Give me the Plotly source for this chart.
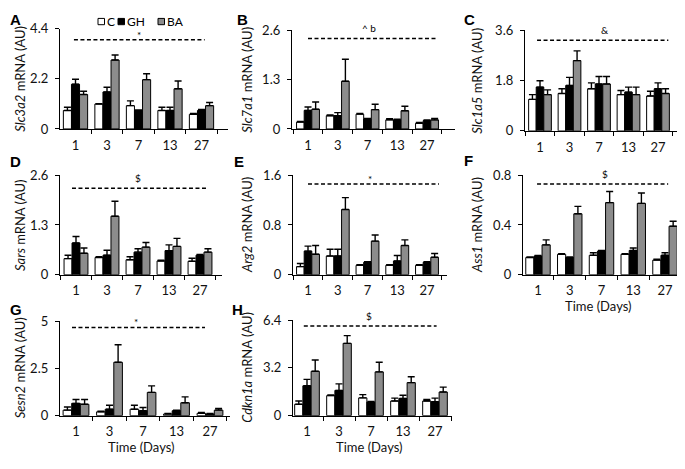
import plotly.graph_objects as go

# The page body has an 8px margin, so the figure is sized to fit the window after it.
OFF = 8
W, H = 685 - OFF, 469 - OFF
FONT = "Lato"

days = ["1", "3", "7", "13", "27"]
groups = ["C", "GH", "BA"]
group_colors = ["white", "black", "#8c8c8c"]
genes = ["Slc3a2", "Slc7a1", "Slc1a5", "Sars", "Arg2", "Ass1", "Sesn2", "Cdkn1a"]
letters = ["A", "B", "C", "D", "E", "F", "G", "H"]

# means and SEM (upper error) per gene, per group, per day
slc3a2_C = [0.81, 1.09, 1.02, 0.81, 0.64]
slc3a2_C_sem = [0.14, 0.02, 0.21, 0.14, 0.04]
slc3a2_GH = [1.96, 1.62, 0.81, 0.81, 0.81]
slc3a2_GH_sem = [0.22, 0.21, 0.02, 0.14, 0.04]
slc3a2_BA = [1.51, 3.02, 2.16, 1.76, 1.02]
slc3a2_BA_sem = [0.14, 0.22, 0.26, 0.34, 0.14]

slc7a1_C = [0.18, 0.35, 0.39, 0.24, 0.15]
slc7a1_C_sem = [0.02, 0.02, 0.02, 0.03, 0.02]
slc7a1_GH = [0.49, 0.35, 0.26, 0.24, 0.22]
slc7a1_GH_sem = [0.09, 0.08, 0.02, 0.02, 0.02]
slc7a1_BA = [0.52, 1.26, 0.51, 0.48, 0.24]
slc7a1_BA_sem = [0.19, 0.58, 0.14, 0.12, 0.04]

slc1a5_C = [1.13, 1.34, 1.51, 1.30, 1.25]
slc1a5_C_sem = [0.17, 0.17, 0.21, 0.15, 0.17]
slc1a5_GH = [1.57, 1.63, 1.68, 1.39, 1.51]
slc1a5_GH_sem = [0.23, 0.29, 0.27, 0.18, 0.21]
slc1a5_BA = [1.30, 2.52, 1.68, 1.30, 1.34]
slc1a5_BA_sem = [0.17, 0.35, 0.27, 0.27, 0.17]

sars_C = [0.42, 0.45, 0.39, 0.36, 0.35]
sars_C_sem = [0.09, 0.02, 0.08, 0.02, 0.08]
sars_GH = [0.83, 0.51, 0.59, 0.63, 0.51]
sars_GH_sem = [0.17, 0.13, 0.09, 0.15, 0.02]
sars_BA = [0.56, 1.53, 0.72, 0.74, 0.59]
sars_BA_sem = [0.14, 0.39, 0.12, 0.21, 0.09]

arg2_C = [0.13, 0.30, 0.15, 0.15, 0.15]
arg2_C_sem = [0.05, 0.11, 0.01, 0.01, 0.01]
arg2_GH = [0.38, 0.30, 0.20, 0.22, 0.20]
arg2_GH_sem = [0.08, 0.11, 0.01, 0.09, 0.01]
arg2_BA = [0.33, 1.05, 0.54, 0.47, 0.28]
arg2_BA_sem = [0.14, 0.19, 0.10, 0.09, 0.06]

ass1_C = [0.138, 0.164, 0.156, 0.164, 0.117]
ass1_C_sem = [0.005, 0.005, 0.02, 0.005, 0.008]
ass1_GH = [0.150, 0.138, 0.190, 0.195, 0.156]
ass1_GH_sem = [0.005, 0.005, 0.005, 0.02, 0.02]
ass1_BA = [0.24, 0.49, 0.58, 0.574, 0.39]
ass1_BA_sem = [0.04, 0.06, 0.09, 0.083, 0.04]

sesn2_C = [0.29, 0.20, 0.34, 0.085, 0.12]
sesn2_C_sem = [0.17, 0.03, 0.21, 0.03, 0.05]
sesn2_GH = [0.65, 0.34, 0.26, 0.26, 0.085]
sesn2_GH_sem = [0.20, 0.21, 0.17, 0.03, 0.03]
sesn2_BA = [0.60, 2.82, 1.23, 0.68, 0.29]
sesn2_BA_sem = [0.25, 0.93, 0.34, 0.31, 0.09]

cdkn1a_C = [0.76, 1.34, 1.19, 0.98, 0.98]
cdkn1a_C_sem = [0.22, 0.04, 0.22, 0.19, 0.10]
cdkn1a_GH = [2.00, 1.69, 0.91, 1.15, 0.93]
cdkn1a_GH_sem = [0.43, 0.44, 0.04, 0.22, 0.24]
cdkn1a_BA = [2.97, 4.84, 2.93, 2.21, 1.58]
cdkn1a_BA_sem = [0.76, 0.52, 0.65, 0.39, 0.33]

values = [
    [(slc3a2_C, slc3a2_C_sem), (slc3a2_GH, slc3a2_GH_sem), (slc3a2_BA, slc3a2_BA_sem)],
    [(slc7a1_C, slc7a1_C_sem), (slc7a1_GH, slc7a1_GH_sem), (slc7a1_BA, slc7a1_BA_sem)],
    [(slc1a5_C, slc1a5_C_sem), (slc1a5_GH, slc1a5_GH_sem), (slc1a5_BA, slc1a5_BA_sem)],
    [(sars_C, sars_C_sem), (sars_GH, sars_GH_sem), (sars_BA, sars_BA_sem)],
    [(arg2_C, arg2_C_sem), (arg2_GH, arg2_GH_sem), (arg2_BA, arg2_BA_sem)],
    [(ass1_C, ass1_C_sem), (ass1_GH, ass1_GH_sem), (ass1_BA, ass1_BA_sem)],
    [(sesn2_C, sesn2_C_sem), (sesn2_GH, sesn2_GH_sem), (sesn2_BA, sesn2_BA_sem)],
    [(cdkn1a_C, cdkn1a_C_sem), (cdkn1a_GH, cdkn1a_GH_sem), (cdkn1a_BA, cdkn1a_BA_sem)],
]

y_max = [4.4, 2.6, 3.6, 2.6, 1.6, 0.8, 5, 6.4]
y_ticklabels = [["0", "2.2", "4.4"], ["0", "1.3", "2.6"], ["0", "1.8", "3.6"], ["0", "1.3", "2.6"],
                ["0", "0.8", "1.6"], ["0", "0.4", "0.8"], ["0", "2.5", "5"], ["0", "3.2", "6.4"]]
sig_labels = ["*", "^ b", "&", "$", "*", "$", "*", "$"]
sig_level = [3.91, 2.39, 3.25, 2.26, 1.46, 0.73, 4.66, 6.01]
sig_start = [-0.05, 0.0, -0.1, -0.13, 0.0, -0.03, -0.12, -0.1]
sig_end = [4.1, 4.35, 4.35, 4.2, 4.4, 4.1, 3.85, 4.05]
sig_text_x = [2.0, 2.05, 2.2, 2.0, 2.1, 2.1, 1.8, 1.95]
has_xtitle = [False, False, False, False, False, True, True, True]

# panel geometry in window pixels: y-axis x, first category centre, category step, axis end, top, bottom
geom = [
    (60, 75.5, 31.5, 228, 21, 125),
    (292, 308, 29.75, 455, 23, 125),
    (525, 540, 29.5, 684, 23, 127),
    (60, 76, 31, 222, 173, 276),
    (293, 308, 29.75, 447, 173, 276),
    (523, 538, 31.75, 680, 173, 276),
    (60, 76, 33.5, 230, 324, 422),
    (293, 307, 32, 452, 323, 422),
]
letter_pos = [(8, 12), (235, 12), (462, 12), (8, 159), (232, 159), (462, 158), (8, 312), (230, 312)]
ytitle_x = [20, 247, 477, 20, 247, 477, 20, 247]


def px(x):
    return (x - OFF) / W


def py(y):
    return 1 - (y - OFF) / H


fig = go.Figure()
layout = {}
annotations = []
shapes = []

for i in range(8):
    x0, c1, s, x1, ytop, ybot = geom[i]
    ax = "" if i == 0 else str(i + 1)
    xa, ya = "x" + ax, "y" + ax
    for g in range(3):
        v, e = values[i][g]
        fig.add_trace(go.Bar(
            x=days, y=v, name=groups[g], xaxis=xa, yaxis=ya, showlegend=False,
            offsetgroup=groups[g],
            marker=dict(color=group_colors[g], line=dict(color="black", width=1)),
            error_y=dict(type="data", array=e, arrayminus=[0] * len(e), symmetric=False,
                         color="black", thickness=1.4, width=3.5),
        ))
    lo = -(c1 - x0) / s
    hi = lo + (x1 - x0) / s
    layout["xaxis" + ax] = dict(
        domain=[px(x0), min(px(x1), 1)], anchor=ya, type="category", range=[lo, hi],
        showline=True, linecolor="black", linewidth=1.3, ticks="outside", tickson="boundaries",
        ticklen=4, tickcolor="black", tickwidth=1.3, showgrid=False, zeroline=False,
        tickfont=dict(family=FONT, size=13, color="#111"), ticklabelstandoff=4,
    )
    layout["yaxis" + ax] = dict(
        domain=[py(ybot), py(ytop)], anchor=xa, range=[0, y_max[i]],
        tickvals=[0, y_max[i] / 2, y_max[i]], ticktext=y_ticklabels[i],
        showline=True, linecolor="black", linewidth=1.3, ticks="outside", ticklen=4,
        tickcolor="black", tickwidth=1.3, showgrid=False, zeroline=False,
        tickfont=dict(family=FONT, size=13, color="#111"), ticklabelstandoff=4,
    )
    shapes.append(dict(type="line", xref=xa, yref=ya, x0=sig_start[i], x1=sig_end[i],
                       y0=sig_level[i], y1=sig_level[i],
                       line=dict(color="black", width=1.5, dash="4px,2.5px")))
    is_star = sig_labels[i] == "*"
    annotations.append(dict(xref=xa, yref=ya, x=sig_text_x[i], y=sig_level[i], text=sig_labels[i],
                            showarrow=False, yanchor="bottom", yshift=-3 if is_star else 2,
                            font=dict(family=FONT, size=10, color="black")))
    lx, ly = letter_pos[i]
    annotations.append(dict(xref="paper", yref="paper", x=max(px(lx), 0), y=py(ly),
                            text="<b>%s</b>" % letters[i],
                            showarrow=False, xanchor="left", yanchor="middle",
                            font=dict(family="Liberation Sans", size=15, color="black")))
    annotations.append(dict(xref="paper", yref="paper", x=px(ytitle_x[i]), y=py((ytop + ybot) / 2),
                            text="<i>%s</i> mRNA (AU)" % genes[i], textangle=-90, showarrow=False,
                            xanchor="center", yanchor="middle",
                            font=dict(family=FONT, size=13, color="#111")))
    if has_xtitle[i]:
        annotations.append(dict(xref="paper", yref="paper", x=px(x0 + (x1 - x0) * 0.48),
                                y=py(ybot + 32), text="Time (Days)", showarrow=False,
                                xanchor="center", yanchor="middle",
                                font=dict(family=FONT, size=13, color="#111")))

# legend (C, GH, BA): swatch squares and labels
legend_items = [("white", "C", 98), ("black", "GH", 118), ("#8c8c8c", "BA", 158)]
for col, lab, sx in legend_items:
    shapes.append(dict(type="rect", xref="paper", yref="paper",
                       x0=px(sx), x1=px(sx + 6.5), y0=py(17), y1=py(10.5),
                       fillcolor=col, line=dict(color="black", width=1)))
    annotations.append(dict(xref="paper", yref="paper", x=px(sx + 7), y=py(13.5),
                            text=lab, showarrow=False, xanchor="left", yanchor="middle",
                            font=dict(family=FONT, size=12, color="black")))

fig.update_layout(
    width=W, height=H, margin=dict(l=0, r=0, t=0, b=0),
    paper_bgcolor="white", plot_bgcolor="white",
    barmode="group", bargap=0.23, bargroupgap=0,
    annotations=annotations, shapes=shapes, showlegend=False,
    **layout,
)

fig.write_html("out.html", config={"displayModeBar": False})
